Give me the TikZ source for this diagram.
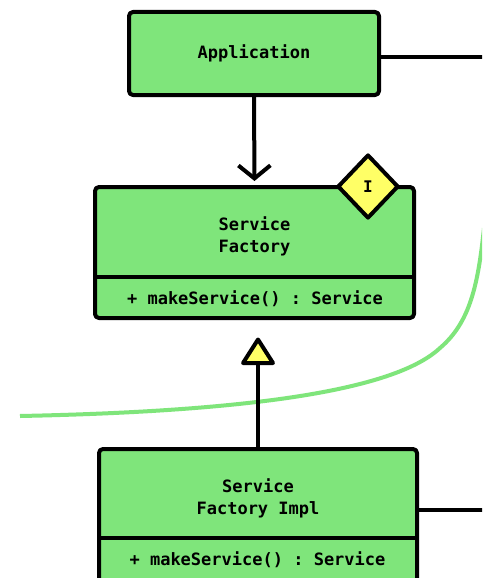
\documentclass[tikz,border=0pt]{standalone}
\usepackage{fontspec}
\setmonofont{DejaVu Sans Mono}
\usetikzlibrary{arrows.meta,shapes.geometric}
\definecolor{umlgreen}{RGB}{127,229,123}
\definecolor{umlyellow}{RGB}{255,255,102}
\begin{document}
\begin{tikzpicture}[x=1pt,y=-1pt,
  box/.style={draw=black, line width=4pt, fill=umlgreen, rounded corners=4pt,
    line join=round, inner sep=0pt},
  txt/.style={font=\ttfamily\bfseries\fontsize{17}{22}\selectfont, align=center,
    inner sep=0pt},
  wire/.style={line width=4pt, draw=black},
  iface/.style={diamond, draw=black, line width=4pt, fill=umlyellow, line join=round,
    inner sep=0pt, minimum width=61pt, minimum height=64pt,
    font=\ttfamily\bfseries\fontsize{16}{20}\selectfont},
  uses/.style={wire, -{Straight Barb[length=13pt,width=32pt]}},
  openhead/.style={draw=black, line width=4pt, fill=umlyellow, line join=round}]
\useasboundingbox (0,0) rectangle (482,578);
\fill[white] (0,0) rectangle (482,578);
\clip (0,0) rectangle (482,578);

% boundary curve in the background
\draw[umlgreen, line width=4pt]
  (20,416) .. controls (220,412) and (390,395) .. (440,348)
           .. controls (470,322.5) and (478,285) .. (484,228);

% Application
\node[box, minimum width=250pt, minimum height=83pt] (app) at (254,53.5) {};
\node[txt] (appname) at (app.center) {Application};
\coordinate (appout) at (490,57);
\draw[wire] (app.east |- appout) -- (appout);

% Service Factory (interface)
\node[box, minimum width=319pt, minimum height=131pt] (sf) at (254.5,252.5) {};
\coordinate (sfdiv) at (0,277);
\draw[wire] (sf.west |- sfdiv) -- (sf.east |- sfdiv);
\node[txt] (sfname) at (254.5,236) {Service\\Factory};
\node[txt] (sfops) at (255,299) {+ makeService() : Service};
\node[iface] (sfmark) at (368,186.5) {I};

% Service Factory Impl
\node[box, minimum width=318pt, minimum height=171pt] (impl) at (258,534.5) {};
\coordinate (impldiv) at (0,538);
\draw[wire] (impl.west |- impldiv) -- (impl.east |- impldiv);
\node[txt] (implname) at (258,498) {Service\\Factory Impl};
\node[txt] (implops) at (257.5,560) {+ makeService() : Service};
\coordinate (implout) at (490,510);
\draw[wire] (impl.east |- implout) -- (implout);

% dependency: Application uses the factory
\draw[uses, shorten >=4pt] (app.south) -- (sf.north);

% realization: hollow triangle pointing at the interface
\coordinate (tritip) at (258,339.5);
\coordinate (tribase) at (258,363);
\draw[wire] (impl.north) -- (tribase);
\draw[openhead] (tritip) -- ++(15,23.5) -- ++(-30,0) -- cycle;
\end{tikzpicture}
\end{document}
